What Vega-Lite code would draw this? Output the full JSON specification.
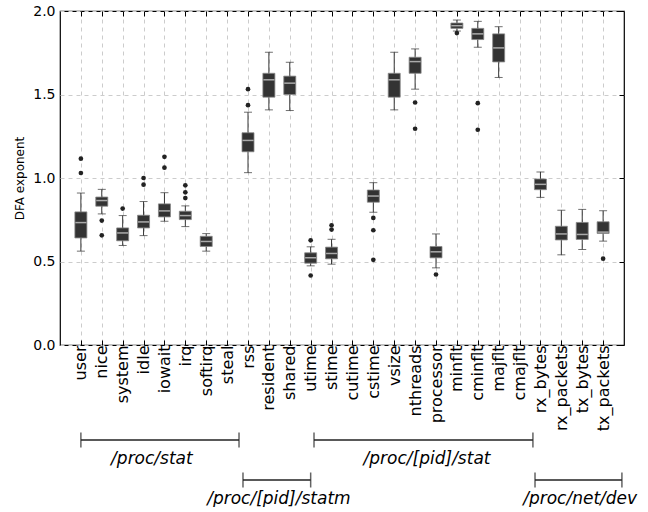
{
  "$schema": "https://vega.github.io/schema/vega-lite/v6.json",
  "padding": {"left": 13, "top": 3, "right": 5, "bottom": 0},
  "background": "white",
  "datasets": {
    "boxes": [
      {"metric": "user", "lo": 0.562, "q1": 0.641, "med": 0.733, "q3": 0.797, "hi": 0.910},
      {"metric": "nice", "lo": 0.785, "q1": 0.831, "med": 0.865, "q3": 0.886, "hi": 0.932},
      {"metric": "system", "lo": 0.596, "q1": 0.624, "med": 0.671, "q3": 0.701, "hi": 0.775},
      {"metric": "idle", "lo": 0.655, "q1": 0.701, "med": 0.737, "q3": 0.777, "hi": 0.859},
      {"metric": "iowait", "lo": 0.741, "q1": 0.767, "med": 0.803, "q3": 0.845, "hi": 0.912},
      {"metric": "irq", "lo": 0.709, "q1": 0.751, "med": 0.775, "q3": 0.801, "hi": 0.833},
      {"metric": "softirq", "lo": 0.562, "q1": 0.590, "med": 0.620, "q3": 0.651, "hi": 0.667},
      {"metric": "rss", "lo": 1.032, "q1": 1.157, "med": 1.225, "q3": 1.271, "hi": 1.394},
      {"metric": "resident", "lo": 1.408, "q1": 1.484, "med": 1.588, "q3": 1.627, "hi": 1.753},
      {"metric": "shared", "lo": 1.404, "q1": 1.500, "med": 1.568, "q3": 1.610, "hi": 1.693},
      {"metric": "utime", "lo": 0.474, "q1": 0.490, "med": 0.522, "q3": 0.552, "hi": 0.588},
      {"metric": "stime", "lo": 0.484, "q1": 0.516, "med": 0.548, "q3": 0.586, "hi": 0.633},
      {"metric": "cstime", "lo": 0.795, "q1": 0.855, "med": 0.892, "q3": 0.928, "hi": 0.972},
      {"metric": "vsize", "lo": 1.408, "q1": 1.484, "med": 1.588, "q3": 1.627, "hi": 1.753},
      {"metric": "nthreads", "lo": 1.532, "q1": 1.627, "med": 1.697, "q3": 1.723, "hi": 1.773},
      {"metric": "processor", "lo": 0.462, "q1": 0.522, "med": 0.558, "q3": 0.590, "hi": 0.665},
      {"metric": "minflt", "lo": 1.880, "q1": 1.896, "med": 1.912, "q3": 1.928, "hi": 1.946},
      {"metric": "cminflt", "lo": 1.783, "q1": 1.829, "med": 1.863, "q3": 1.896, "hi": 1.938},
      {"metric": "majflt", "lo": 1.602, "q1": 1.695, "med": 1.779, "q3": 1.863, "hi": 1.906},
      {"metric": "rx_bytes", "lo": 0.884, "q1": 0.930, "med": 0.962, "q3": 0.994, "hi": 1.036},
      {"metric": "rx_packets", "lo": 0.540, "q1": 0.629, "med": 0.665, "q3": 0.711, "hi": 0.807},
      {"metric": "tx_bytes", "lo": 0.572, "q1": 0.632, "med": 0.662, "q3": 0.734, "hi": 0.812},
      {"metric": "tx_packets", "lo": 0.622, "q1": 0.668, "med": 0.676, "q3": 0.738, "hi": 0.804}
    ],
    "outliers": [
      {"metric": "user", "v": 1.116}, {"metric": "user", "v": 1.030},
      {"metric": "nice", "v": 0.745}, {"metric": "nice", "v": 0.657},
      {"metric": "system", "v": 0.817},
      {"metric": "idle", "v": 1.000}, {"metric": "idle", "v": 0.960},
      {"metric": "iowait", "v": 1.127}, {"metric": "iowait", "v": 1.062},
      {"metric": "irq", "v": 0.956}, {"metric": "irq", "v": 0.914}, {"metric": "irq", "v": 0.880},
      {"metric": "rss", "v": 1.532}, {"metric": "rss", "v": 1.436},
      {"metric": "utime", "v": 0.627}, {"metric": "utime", "v": 0.416},
      {"metric": "stime", "v": 0.717}, {"metric": "stime", "v": 0.691},
      {"metric": "cstime", "v": 0.761}, {"metric": "cstime", "v": 0.687}, {"metric": "cstime", "v": 0.510},
      {"metric": "nthreads", "v": 1.452}, {"metric": "nthreads", "v": 1.295},
      {"metric": "processor", "v": 0.422},
      {"metric": "minflt", "v": 1.868},
      {"metric": "cminflt", "v": 1.448}, {"metric": "cminflt", "v": 1.289},
      {"metric": "tx_packets", "v": 0.517}
    ],
    "groups": [
      {"label": "/proc/stat", "x0": 1.0, "x1": 8.57, "xm": 4.4, "level": 0},
      {"label": "/proc/[pid]/statm", "x0": 8.76, "x1": 12.0, "xm": 10.48, "level": 1},
      {"label": "/proc/[pid]/stat", "x0": 12.16, "x1": 22.64, "xm": 17.57, "level": 0},
      {"label": "/proc/net/dev", "x0": 22.74, "x1": 26.9, "xm": 24.9, "level": 1}
    ]
  },
  "spacing": 0,
  "vconcat": [
    {
      "width": 564,
      "height": 334,
      "view": {"stroke": "black", "strokeWidth": 1.2},
      "encoding": {
        "x": {
          "field": "metric",
          "type": "nominal",
          "scale": {
            "type": "point",
            "padding": 1,
            "domain": ["user", "nice", "system", "idle", "iowait", "irq", "softirq", "steal", "rss", "resident", "shared", "utime", "stime", "cutime", "cstime", "vsize", "nthreads", "processor", "minflt", "cminflt", "majflt", "cmajflt", "rx_bytes", "rx_packets", "tx_bytes", "tx_packets"]
          },
          "axis": null
        }
      },
      "layer": [
        {
          "data": {"name": "boxes"},
          "mark": {"type": "rule", "color": "#333333", "strokeWidth": 1},
          "encoding": {
            "x": {
              "field": "metric",
              "type": "nominal",
              "axis": {
                "orient": "bottom",
                "title": null,
                "labelAngle": -90,
                "labelFontSize": 16,
                "labelPadding": 5,
                "labelColor": "black",
                "tickSize": -5,
                "tickColor": "black",
                "domain": false,
                "grid": true,
                "gridDash": [4, 4],
                "gridColor": "#cccccc"
              }
            },
            "y": {
              "field": "lo",
              "type": "quantitative",
              "scale": {"domain": [0, 2], "nice": false},
              "axis": {
                "title": "DFA exponent",
                "titleFontSize": 12,
                "titleFontWeight": "normal",
                "titleColor": "black",
                "titlePadding": 6,
                "labelFontSize": 14,
                "labelColor": "black",
                "labelPadding": 5,
                "format": ".1f",
                "values": [0, 0.5, 1, 1.5, 2],
                "ticks": false,
                "domain": false,
                "grid": true,
                "gridDash": [4, 4],
                "gridColor": "#cccccc"
              }
            },
            "y2": {"field": "hi"}
          }
        },
        {
          "data": {"name": "boxes"},
          "mark": {"type": "tick", "color": "#333333", "size": 8, "thickness": 1},
          "encoding": {"y": {"field": "lo", "type": "quantitative", "axis": null}}
        },
        {
          "data": {"name": "boxes"},
          "mark": {"type": "tick", "color": "#333333", "size": 8, "thickness": 1},
          "encoding": {"y": {"field": "hi", "type": "quantitative", "axis": null}}
        },
        {
          "data": {"name": "boxes"},
          "mark": {"type": "bar", "width": 12, "fill": "#333333", "stroke": "#888888", "strokeWidth": 0.8},
          "encoding": {
            "y": {"field": "q1", "type": "quantitative", "axis": null},
            "y2": {"field": "q3"}
          }
        },
        {
          "data": {"name": "boxes"},
          "mark": {"type": "tick", "color": "#dddddd", "size": 11, "thickness": 1.5},
          "encoding": {
            "y": {
              "field": "med",
              "type": "quantitative",
              "axis": {"orient": "right", "labels": false, "title": null, "values": [0, 0.5, 1, 1.5, 2], "ticks": true, "tickSize": -5, "tickColor": "black", "domain": false, "grid": false}
            }
          }
        },
        {
          "data": {"name": "outliers"},
          "mark": {"type": "circle", "color": "#222222", "size": 22, "opacity": 1},
          "encoding": {
            "x": {
              "field": "metric",
              "type": "nominal",
              "axis": {"orient": "top", "labels": false, "title": null, "ticks": true, "tickSize": -5, "tickColor": "black", "domain": false, "grid": false}
            },
            "y": {"field": "v", "type": "quantitative", "axis": null}
          }
        }
      ],
      "resolve": {"axis": {"x": "independent", "y": "independent"}}
    },
    {
      "width": 564,
      "height": 70,
      "view": {"stroke": null},
      "data": {"name": "groups"},
      "encoding": {
        "y": {
          "field": "level",
          "type": "quantitative",
          "scale": {"domain": [-0.1, 1.65], "reverse": true, "nice": false, "zero": false},
          "axis": null
        }
      },
      "layer": [
        {
          "mark": {"type": "rule", "color": "#222222", "strokeWidth": 1.5},
          "encoding": {
            "x": {"field": "x0", "type": "quantitative", "scale": {"domain": [0, 27], "nice": false, "zero": false}, "axis": null},
            "x2": {"field": "x1"}
          }
        },
        {
          "mark": {"type": "tick", "orient": "vertical", "color": "#222222", "size": 15, "thickness": 1.5},
          "encoding": {"x": {"field": "x0", "type": "quantitative"}}
        },
        {
          "mark": {"type": "tick", "orient": "vertical", "color": "#222222", "size": 15, "thickness": 1.5},
          "encoding": {"x": {"field": "x1", "type": "quantitative"}}
        },
        {
          "mark": {"type": "text", "fontSize": 17, "fontStyle": "italic", "align": "center", "baseline": "middle", "dy": 19, "color": "black"},
          "encoding": {
            "x": {"field": "xm", "type": "quantitative"},
            "text": {"field": "label"}
          }
        }
      ]
    }
  ],
  "resolve": {"scale": {"x": "independent"}},
  "config": {
    "font": "DejaVu Sans"
  }
}
